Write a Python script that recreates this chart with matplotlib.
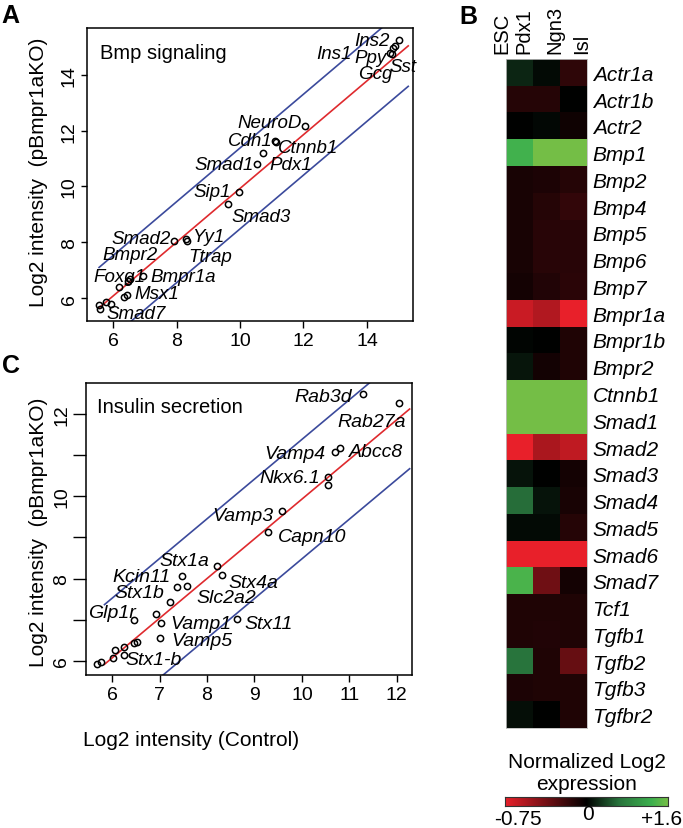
import numpy as np
import matplotlib
matplotlib.use('Agg')
import matplotlib.pyplot as plt
from matplotlib.colors import LinearSegmentedColormap, TwoSlopeNorm
import matplotlib.transforms as mtrans

plt.rcParams['font.family'] = ['Liberation Sans', 'DejaVu Sans']

# ---------------- Panel A data: Bmp signaling ----------------
genes_a = ['Ins2', 'Ins1', 'Ppy', 'Gcg', 'Sst', 'NeuroD', 'Cdh1', 'Ctnnb1', 'Pdx1',
           'Smad1', 'Sip1', 'Smad3', 'Smad2', 'Yy1', 'Ttrap', 'Bmpr2', 'Foxg1',
           'Bmpr1a', 'Msx1', 'Smad7']
ctrl_a = [15.01, 14.88, 14.82, 14.72, 14.79, 12.05, 11.10, 11.13, 10.72,
          10.54, 9.97, 9.62, 7.92, 8.30, 8.33, 6.54, 6.19, 6.94, 6.44, 5.94]
ko_a = [15.25, 15.04, 14.96, 14.78, 14.75, 12.16, 11.63, 11.59, 11.20,
        10.80, 9.80, 9.37, 8.04, 8.11, 8.04, 6.68, 6.39, 6.79, 6.11, 5.79]
extra_ctrl_a = [5.59, 5.56, 5.78, 6.35, 6.47]
extra_ko_a = [5.61, 5.75, 5.86, 6.04, 6.61]

# ---------------- Panel C data: Insulin secretion ----------------
genes_c = ['Rab3d', 'Rab27a', 'Vamp4', 'Abcc8', 'Nkx6.1', 'Vamp3', 'Capn10', 'Stx1a',
           'Stx4a', 'Kcin11', 'Stx1b', 'Slc2a2', 'Glp1r', 'Vamp1', 'Stx11', 'Vamp5',
           'Stx1-b']
ctrl_c = [11.28, 12.04, 10.69, 10.80, 10.55, 9.58, 9.28, 8.21,
          8.32, 7.47, 7.37, 7.58, 6.46, 7.03, 8.63, 7.01, 6.25]
ko_c = [12.48, 12.26, 11.07, 11.17, 10.47, 9.64, 9.13, 8.31,
        8.09, 8.06, 7.80, 7.82, 7.00, 6.92, 7.02, 6.56, 6.15]
extra_ctrl_c = [10.55, 7.22, 6.93, 6.46, 6.53, 6.06, 6.25, 6.02, 5.68, 5.77]
extra_ko_c = [10.27, 7.43, 7.14, 6.44, 6.46, 6.27, 6.34, 6.07, 5.93, 5.98]

# fitted line and band
fit_intercept = 0.29
fit_slope = 0.964
band_width = 1.45
line_range_a = (5.56, 15.3)
line_range_c = (5.84, 12.27)

# ---------------- Panel B data: heatmap ----------------
heat_cols = ['ESC', 'Pdx1', 'Ngn3', 'Isl']
heat_genes = ['Actr1a', 'Actr1b', 'Actr2', 'Bmp1', 'Bmp2', 'Bmp4', 'Bmp5', 'Bmp6',
              'Bmp7', 'Bmpr1a', 'Bmpr1b', 'Bmpr2', 'Ctnnb1', 'Smad1', 'Smad2',
              'Smad3', 'Smad4', 'Smad5', 'Smad6', 'Smad7', 'Tcf1', 'Tgfb1',
              'Tgfb2', 'Tgfb3', 'Tgfbr2']
heat_c1 = [0.20, -0.12, 0.00, 1.30, -0.08, -0.08, -0.08, -0.08, -0.07, -0.65, 0.03, 0.12,
           1.60, 1.60, -0.75, 0.10, 0.60, 0.05, -0.75, 1.35, -0.10, -0.10, 0.65, -0.09, 0.08]
heat_c2 = [0.05, -0.12, 0.04, 1.60, -0.09, -0.12, -0.13, -0.13, -0.11, -0.57, 0.00, -0.06,
           1.60, 1.60, -0.55, 0.00, 0.10, 0.05, -0.75, -0.36, -0.10, -0.11, -0.10, -0.10, 0.00]
heat_c3 = [-0.15, 0.00, -0.05, 1.60, -0.12, -0.16, -0.13, -0.13, -0.14, -0.75, -0.10, -0.10,
           1.60, 1.60, -0.62, -0.07, -0.08, -0.12, -0.75, -0.07, -0.10, -0.10, -0.33, -0.10, -0.10]
cbar_min, cbar_center, cbar_max = -0.75, 0.0, 1.6

# ---------------- layout (pixels) ----------------
W, H = 683, 829
DPI = 100
# label offsets (pixels, dx right, dy up) for gene labels
label_off_a = [(-27, 1), (-61, -6), (-22, -7), (-15, -18), (11, -11), (-35, 6), (-25, 3),
               (32, -3), (28, -9), (-33, 2), (-27, 3), (33, -10), (-33, 5), (22, 5),
               (23, -13), (0, 27), (0, 13), (40, 2), (30, 4), (25, -8)]
label_off_c = [(-39, 0), (-27, -16), (-40, 1), (36, -1), (-38, 1), (-39, -2), (44, -2),
               (-33, 7), (31, -6), (-40, 2), (-38, -4), (39, -9), (-22, 9), (40, 2),
               (32, -3), (42, -1), (30, -3)]


def fr(l, t, r, b):
    return [l / W, 1 - b / H, (r - l) / W, (b - t) / H]


fig = plt.figure(figsize=(W / DPI, H / DPI), dpi=DPI)
axA = fig.add_axes(fr(87, 29, 413, 322))
axC = fig.add_axes(fr(86, 384, 412, 676))
axB = fig.add_axes(fr(506, 60, 587, 729))
axCB = fig.add_axes(fr(505, 798, 668, 807))

RED = '#DF2A2E'
BLUE = '#3B4A9C'


def scatter_panel(ax, genes, xs, ys, exs, eys, offs, lrange, fsize):
    xl = np.array(lrange)
    yl = fit_intercept + fit_slope * xl
    ax.plot(xl, yl + band_width, color=BLUE, lw=1.2, zorder=1)
    ax.plot(xl, yl - band_width, color=BLUE, lw=1.2, zorder=1)
    ax.plot(xl, yl, color=RED, lw=1.2, zorder=2)
    ax.plot(list(xs) + list(exs), list(ys) + list(eys), 'o', mfc='none', mec='black',
            ms=4.5, mew=1.1, zorder=3)
    for g, x, y, (dx, dy) in zip(genes, xs, ys, offs):
        ax.annotate(g, (x, y), xytext=(dx * 72 / DPI, (dy - 2) * 72 / DPI),
                    textcoords='offset points', ha='center', va='center',
                    fontsize=fsize, style='italic', zorder=4)
    for s in ax.spines.values():
        s.set_linewidth(1.1)


scatter_panel(axA, genes_a, ctrl_a, ko_a, extra_ctrl_a, extra_ko_a, label_off_a,
              line_range_a, 13.5)
axA.set_xlim(5.18, 15.45)
axA.set_ylim(5.18, 15.68)
axA.set_xticks([6, 8, 10, 12, 14])
axA.set_yticks([6, 8, 10, 12, 14])
axA.set_yticklabels(['6', '8', '10', '12', '14'], rotation=90, va='center')
axA.tick_params(axis='x', direction='out', length=5, width=1.0, labelsize=14, pad=3)
axA.tick_params(axis='y', direction='out', length=4.5, width=1.0, labelsize=14, pad=2)
axA.text(0.040, 0.915, 'Bmp signaling', transform=axA.transAxes, fontsize=14.5,
         va='center', ha='left')

scatter_panel(axC, genes_c, ctrl_c, ko_c, extra_ctrl_c, extra_ko_c, label_off_c,
              line_range_c, 14)
axC.set_xlim(5.45, 12.32)
axC.set_ylim(5.66, 12.75)
axC.set_xticks([6, 7, 8, 9, 10, 11, 12])
axC.set_yticks([6, 7, 8, 9, 10, 11, 12])
axC.set_yticklabels(['6', '', '8', '', '10', '', '12'], rotation=90, va='center')
axC.tick_params(axis='x', direction='out', length=5, width=1.0, labelsize=14, pad=3)
axC.tick_params(axis='y', direction='out', length=9.5, width=1.0, labelsize=14, pad=2)
axC.text(0.034, 0.918, 'Insulin secretion', transform=axC.transAxes, fontsize=14.5,
         va='center', ha='left')

# axis labels
fig.text(39 / W, 1 - 172 / H, 'Log2 intensity  (pBmpr1aKO)', rotation=90,
         ha='center', va='center', fontsize=15)
fig.text(39 / W, 1 - 532 / H, 'Log2 intensity  (pBmpr1aKO)', rotation=90,
         ha='center', va='center', fontsize=15)
fig.text(191 / W, 1 - 741 / H, 'Log2 intensity (Control)', ha='center', va='center',
         fontsize=15)

# panel letters
fig.text(10 / W, 1 - 16 / H, 'A', fontsize=18, fontweight='bold', ha='center', va='center')
fig.text(468 / W, 1 - 17 / H, 'B', fontsize=18, fontweight='bold', ha='center', va='center')
fig.text(11 / W, 1 - 366 / H, 'C', fontsize=18, fontweight='bold', ha='center', va='center')

# ---------------- heatmap ----------------
cmap = LinearSegmentedColormap.from_list(
    'rg', [(0.0, '#E8202A'), (0.5, '#000000'), (0.7, '#28733C'),
           (0.9, '#3CB04E'), (1.0, '#74BE46')])
norm = TwoSlopeNorm(vmin=cbar_min, vcenter=cbar_center, vmax=cbar_max)
heat = np.column_stack([heat_c1, heat_c2, heat_c3])
axB.imshow(heat, cmap=cmap, norm=norm, aspect='auto', interpolation='nearest')
axB.set_xticks([])
axB.yaxis.tick_right()
axB.set_yticks(range(len(heat_genes)))
axB.set_yticklabels(heat_genes, fontsize=15, style='italic')
axB.tick_params(axis='y', length=0, pad=4)
for s in axB.spines.values():
    s.set_linewidth(0.6)
    s.set_color('#BBBBBB')
col_label_x = [-0.65, 0.18, 1.31, 2.30]
trans = mtrans.blended_transform_factory(axB.transData, axB.transAxes)
for lab, x in zip(heat_cols, col_label_x):
    axB.annotate(lab, (x, 1.0), xycoords=trans, xytext=(0, 4.5),
                 textcoords='offset points', rotation=90, ha='center', va='bottom',
                 fontsize=14.5, annotation_clip=False)

# ---------------- colour bar ----------------
axCB.imshow(np.linspace(0, 1, 256)[None, :], cmap=cmap, aspect='auto',
            extent=(0, 1, 0, 1))
axCB.set_xticks([])
axCB.set_yticks([])
for s in axCB.spines.values():
    s.set_linewidth(0.8)
    s.set_color('#333333')
fig.text(587 / W, 1 - 774 / H, 'Normalized Log2\nexpression', ha='center', va='center',
         fontsize=15, linespacing=1.2)
cbar_labels = ['-0.75', '0', '+1.6']
cbar_label_px = [(518, 820), (588, 815), (662, 820)]
for lab, (x, y) in zip(cbar_labels, cbar_label_px):
    fig.text(x / W, 1 - y / H, lab, ha='center', va='center', fontsize=15)

fig.savefig('out.png', dpi=DPI)
